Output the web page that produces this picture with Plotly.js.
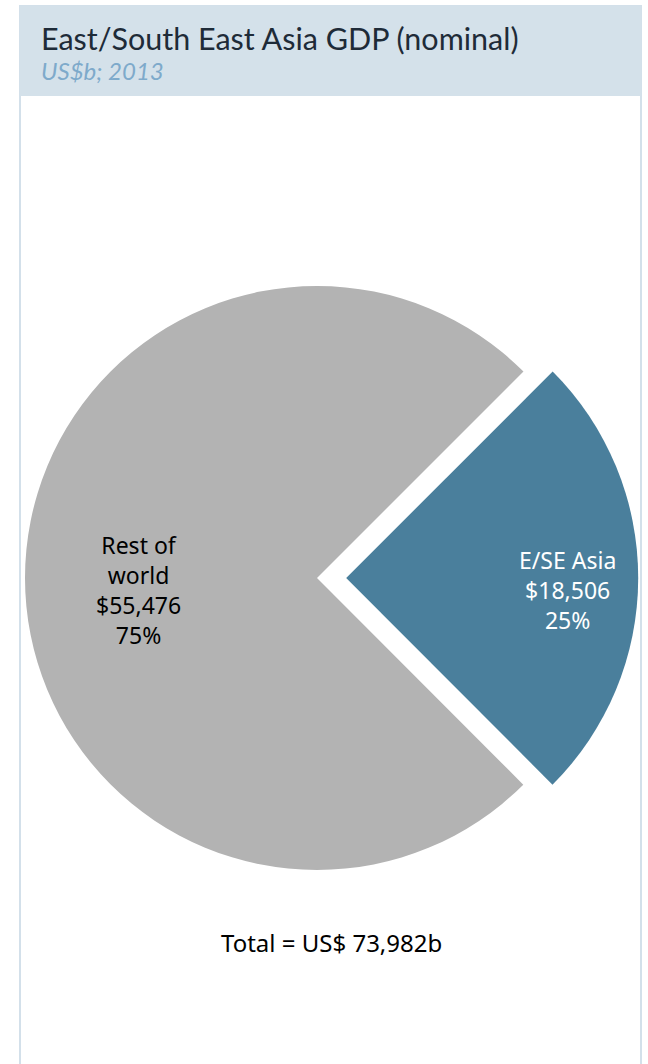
<!DOCTYPE html>
<html><head><meta charset="utf-8">
<script src="https://cdn.plot.ly/plotly-3.0.1.min.js"></script>
<style>html,body{margin:0;padding:0;background:#fff;overflow:hidden;width:648px;height:1064px;}
#chart{position:absolute;left:-12px;top:0;width:660px;height:1064px;}</style>
</head><body><div id="chart"></div>
<script>
var labels = ["E/SE Asia", "Rest of<br>world"];
var values = [18506, 55476];
var colors = ["#4a7f9c", "#b3b3b3"];
var pulls = [0.1, 0];
var textColors = ["#ffffff", "#000000"];
var titleText = "East/South East Asia GDP (nominal)";
var subtitleText = "US$b; 2013";
var totalText = "Total = US$ 73,982b";

// layout constants (page pixels)
var W = 660, H = 1064, OFF = 12;
var CX = 317, CY = 578, R = 292, ROT = 45;
var labelFrac = [0.757, 0.613];
function px2x(px) { return (px + OFF) / W; }
function py2y(py) { return 1 - py / H; }

var maxPull = Math.max.apply(null, pulls);
var halfW = R * (1 + maxPull);
var trace = {
  type: "pie",
  labels: labels,
  values: values,
  sort: false,
  direction: "clockwise",
  rotation: ROT,
  pull: pulls,
  marker: {colors: colors, line: {width: 0}},
  textinfo: "none",
  hoverinfo: "none",
  showlegend: false,
  domain: {x: [px2x(CX - halfW), px2x(CX + halfW)], y: [py2y(CY + 340), py2y(CY - 340)]}
};

var total = values.reduce(function (a, b) { return a + b; }, 0);
function fmt(v) { return v.toString().replace(/\B(?=(\d{3})+(?!\d))/g, ","); }
var annotations = [];
var cum = 0;
for (var i = 0; i < values.length; i++) {
  var a = (ROT + 360 * (cum + values[i] / 2) / total) * Math.PI / 180;
  cum += values[i];
  var d = (pulls[i] + labelFrac[i]) * R;
  var x = CX + d * Math.sin(a), y = CY - d * Math.cos(a);
  annotations.push({
    text: labels[i] + "<br>$" + fmt(values[i]) + "<br>" + Math.round(100 * values[i] / total) + "%",
    xref: "paper", yref: "paper", x: px2x(x), y: py2y(y), xanchor: "center", yanchor: "middle",
    yshift: -12, showarrow: false, align: "center",
    font: {family: "Noto Sans, Open Sans, sans-serif", size: 23, color: textColors[i]}
  });
}
annotations.push(
  {text: titleText, xref: "paper", yref: "paper", x: px2x(39), y: py2y(38), xanchor: "left", yanchor: "middle",
   showarrow: false, font: {family: "Lato, sans-serif", size: 30.5, color: "#1e2b38"}},
  {text: "<i>" + subtitleText + "</i>", xref: "paper", yref: "paper", x: px2x(39), y: py2y(71), xanchor: "left", yanchor: "middle",
   showarrow: false, font: {family: "Lato, sans-serif", size: 24, color: "#7eaacb"}},
  {text: totalText, xref: "paper", yref: "paper", x: px2x(331), y: py2y(942), xanchor: "center", yanchor: "middle",
   showarrow: false, font: {family: "Noto Sans, Open Sans, sans-serif", size: 24, color: "#000000"}}
);

var layout = {
  width: W, height: H,
  margin: {l: 0, r: 0, t: 0, b: 0},
  paper_bgcolor: "#ffffff",
  showlegend: false,
  shapes: [
    {type: "rect", xref: "paper", yref: "paper", x0: px2x(20), x1: px2x(641), y0: -0.01, y1: py2y(6),
     line: {color: "#d3e0ea", width: 2}, fillcolor: "rgba(0,0,0,0)", layer: "below"},
    {type: "rect", xref: "paper", yref: "paper", x0: px2x(20), x1: px2x(641), y0: py2y(96), y1: py2y(6),
     line: {width: 0}, fillcolor: "#d4e1ea", layer: "below"}
  ],
  annotations: annotations
};
Plotly.newPlot("chart", [trace], layout, {displayModeBar: false, staticPlot: true});
</script></body></html>
